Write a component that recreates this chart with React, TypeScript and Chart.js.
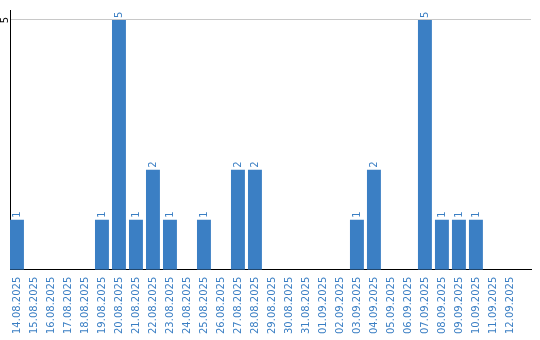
import React, { useEffect, useRef } from "react";
import { Chart, registerables } from "chart.js";

Chart.register(...registerables);

const categories: string[] = [
  "14.08.2025", "15.08.2025", "16.08.2025", "17.08.2025", "18.08.2025",
  "19.08.2025", "20.08.2025", "21.08.2025", "22.08.2025", "23.08.2025",
  "24.08.2025", "25.08.2025", "26.08.2025", "27.08.2025", "28.08.2025",
  "29.08.2025", "30.08.2025", "31.08.2025", "01.09.2025", "02.09.2025",
  "03.09.2025", "04.09.2025", "05.09.2025", "06.09.2025", "07.09.2025",
  "08.09.2025", "09.09.2025", "10.09.2025", "11.09.2025", "12.09.2025",
];

const counts: number[] = [
  1, 0, 0, 0, 0,
  1, 5, 1, 2, 1,
  0, 1, 0, 2, 2,
  0, 0, 0, 0, 0,
  1, 2, 0, 0, 5,
  1, 1, 1, 0, 0,
];

const yTicks: number[] = [5];

const BLUE = "#3b7fc4";
const FONT = "DejaVu Sans";

const labelPlugin = {
  id: "valueLabels",
  afterDatasetsDraw(chart: any) {
    const ctx = chart.ctx;
    const meta = chart.getDatasetMeta(0);
    ctx.save();
    ctx.font = `10px "${FONT}"`;
    ctx.fillStyle = BLUE;
    ctx.textAlign = "left";
    ctx.textBaseline = "middle";
    meta.data.forEach((bar: any, i: number) => {
      const v = counts[i];
      if (!v) return;
      ctx.save();
      ctx.translate(bar.x, bar.y - 2);
      ctx.rotate(-Math.PI / 2);
      ctx.fillText(String(v), 0, 0);
      ctx.restore();
    });
    ctx.restore();
  },
  afterDraw(chart: any) {
    const ctx = chart.ctx;
    const y = chart.scales.y;
    ctx.save();
    ctx.font = `10px "${FONT}"`;
    ctx.fillStyle = "#000";
    ctx.textAlign = "center";
    ctx.textBaseline = "middle";
    yTicks.forEach((t) => {
      ctx.save();
      ctx.translate(5, y.getPixelForValue(t));
      ctx.rotate(-Math.PI / 2);
      ctx.fillText(String(t), 0, 0);
      ctx.restore();
    });
    ctx.restore();
  },
};

export default function App() {
  const ref = useRef<HTMLCanvasElement | null>(null);
  useEffect(() => {
    if (!ref.current) return;
    const chart = new Chart(ref.current, {
      type: "bar",
      data: {
        datasets: [
          {
            data: counts.map((v, i) => ({ x: i, y: v })),
            backgroundColor: BLUE,
            borderWidth: 0,
            barPercentage: 0.82,
            categoryPercentage: 1,
          },
        ],
      },
      plugins: [labelPlugin],
      options: {
        animation: false,
        responsive: true,
        maintainAspectRatio: false,
        layout: { padding: { left: 10, top: 10, right: 9, bottom: -1 } },
        plugins: {
          legend: { display: false },
          tooltip: { enabled: false },
        },
        scales: {
          x: {
            type: "linear",
            min: -0.41,
            max: 30.24,
            offset: false,
            afterBuildTicks: (scale: any) => {
              scale.ticks = categories.map((_, i) => ({ value: i }));
            },
            grid: { display: false, drawTicks: false },
            border: { display: true, color: "#000", width: 1 },
            ticks: {
              color: BLUE,
              font: { family: FONT, size: 10 },
              minRotation: 90,
              maxRotation: 90,
              autoSkip: false,
              padding: 7,
              callback: (v: any) => categories[Number(v)] ?? "",
            },
          },
          y: {
            min: 0,
            max: 5.2,
            afterBuildTicks: (scale: any) => {
              scale.ticks = yTicks.map((v) => ({ value: v }));
            },
            grid: { color: "#c8c8c8", drawTicks: false },
            border: { display: true, color: "#000", width: 1 },
            ticks: { display: false },
          },
        },
      },
    });
    return () => chart.destroy();
  }, []);
  return (
    <div style={{ position: "absolute", left: 0, top: 0, width: 540, height: 340 }}>
      <canvas ref={ref} />
    </div>
  );
}
